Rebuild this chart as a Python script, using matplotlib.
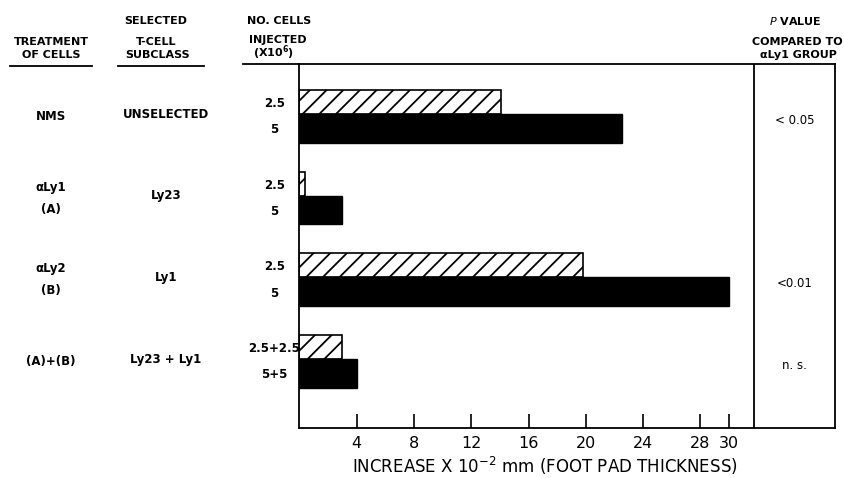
import matplotlib
matplotlib.use("Agg")
import matplotlib.pyplot as plt
from matplotlib.lines import Line2D
import matplotlib.transforms as mtransforms

# ---- data ----
treatments = ["NMS", "\u03b1Ly1\n(A)", "\u03b1Ly2\n(B)", "(A)+(B)"]
subclasses = ["UNSELECTED", "Ly23", "Ly1", "Ly23 + Ly1"]
dose_low = ["2.5", "2.5", "2.5", "2.5+2.5"]
dose_high = ["5", "5", "5", "5+5"]
low_values = [14.1, 0.4, 19.8, 3.0]
high_values = [22.5, 3.0, 30.0, 4.0]
p_values = ["< 0.05", "", "<0.01", "n. s."]
xticks = [4, 8, 12, 16, 20, 24, 28, 30]

plt.rcParams["hatch.linewidth"] = 1.3

W, H = 845, 478
fig = plt.figure(figsize=(W / 100, H / 100), dpi=100)

def fx(px):
    return px / W

def fy(py):
    return 1 - py / H

ax_l, ax_r, ax_t, ax_b = 299.4, 835, 64, 428
ax = fig.add_axes([fx(ax_l), fy(ax_b), fx(ax_r - ax_l), (ax_b - ax_t) / H])

xmax = (ax_r - ax_l) / 14.32
pbox = (754 - ax_l) / 14.32
ax.set_xlim(0, xmax)
ax.set_ylim(3.843, -0.612)

pos = list(range(len(treatments)))
h_low, h_high = 0.294, 0.351
ax.barh(pos, low_values, height=-h_low, align="edge", color="white",
        edgecolor="black", hatch="//", linewidth=1.2)
ax.barh(pos, high_values, height=h_high, align="edge", color="black",
        edgecolor="black", linewidth=1.0)

ax.axvline(pbox, color="black", linewidth=1.3)

for s in ax.spines.values():
    s.set_linewidth(1.3)

ax.set_xticks(xticks)
ax.set_xticklabels([str(t) for t in xticks])
ax.tick_params(axis="x", direction="in", length=10, width=1.2, pad=6,
               labelsize=11.5)

ytick_pos = [p - h_low / 2 for p in pos] + [p + h_high / 2 for p in pos]
ax.set_yticks(ytick_pos)
ax.set_yticklabels(dose_low + dose_high, fontsize=8.5, fontweight="bold")
ax.tick_params(axis="y", length=0, pad=18)
for lab in ax.get_yticklabels():
    lab.set_horizontalalignment("center")

ax.set_xlabel("INCREASE X 10$^{-2}$ mm (FOOT PAD THICKNESS)", fontsize=12)
ax.xaxis.set_label_coords((545 - ax_l) / (ax_r - ax_l), -(466 - ax_b) / (ax_b - ax_t))
ax.xaxis.label.set_va("center")

# row labels
trans = mtransforms.blended_transform_factory(fig.transFigure, ax.transData)
for p, t, s, pv in zip(pos, treatments, subclasses, p_values):
    ax.text(fx(51), p + 0.03, t, transform=trans, ha="center", va="center",
            fontsize=8.5, fontweight="bold", linespacing=1.9)
    ax.text(fx(166), p, s, transform=trans, ha="center", va="center",
            fontsize=8.5, fontweight="bold")
    if pv:
        ax.text((pbox + xmax) / 2, p + 0.08, pv, ha="center", va="center",
                fontsize=8.5)

# headers
hdr = dict(ha="center", va="center", fontsize=8, fontweight="bold")
fig.text(fx(51), fy(42), "TREATMENT", **hdr)
fig.text(fx(51), fy(55), "OF CELLS", **hdr)
fig.text(fx(156), fy(21), "SELECTED", **hdr)
fig.text(fx(156), fy(42), "T-CELL", **hdr)
fig.text(fx(158), fy(55), "SUBCLASS", **hdr)
fig.text(fx(279), fy(21), "NO. CELLS", **hdr)
fig.text(fx(278), fy(40), "INJECTED", **hdr)
fig.text(fx(274), fy(53), "(X10$^{\\mathbf{6}}$)", **hdr)
fig.text(fx(795), fy(21), "$P$ VALUE", **hdr)
fig.text(fx(797), fy(42), "COMPARED TO", **hdr)
fig.text(fx(798), fy(55), "\u03b1Ly1 GROUP", **hdr)

# underlines / top rule
for x0, x1, y in [(10, 92, 65.5), (118, 204, 65.5), (243, ax_l, 64)]:
    fig.add_artist(Line2D([fx(x0), fx(x1)], [fy(y), fy(y)], color="black",
                          linewidth=1.3, transform=fig.transFigure))

fig.savefig("out.png", dpi=100)
